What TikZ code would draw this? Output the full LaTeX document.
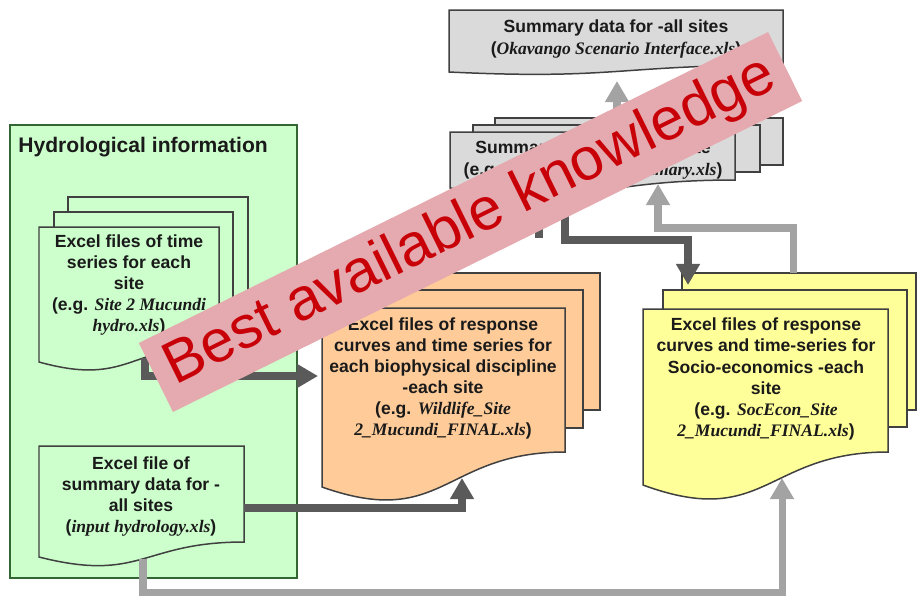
\documentclass[tikz,border=0pt]{standalone}
\usepackage{fontspec}
\setmainfont{Liberation Sans}
\newfontfamily\serifit{Liberation Serif}
\usetikzlibrary{arrows.meta}

\definecolor{hydrogreen}{HTML}{CCFFCC}
\definecolor{bioorange}{HTML}{FFCC99}
\definecolor{socyellow}{HTML}{FFFF99}
\definecolor{sumgray}{HTML}{DADADA}
\definecolor{edgegray}{HTML}{404040}
\definecolor{ink}{HTML}{1A1A1A}
\definecolor{flowdark}{HTML}{5A5A5A}
\definecolor{flowlight}{HTML}{A3A3A3}
\definecolor{stamppink}{HTML}{E5AAAF}
\definecolor{stampred}{HTML}{C80008}

% file names are set in bold italic serif
\newcommand\fname[1]{{\serifit\bfseries\itshape #1}}

% one sheet of a document shape: x1, top, x2, right end of wave, left end of wave, wave control, fill
\newcommand\docsheet[7]{%
  \path[sheet,fill=#7] (#1,#2) -- (#3,#2) -- (#3,#4)
    .. controls ({(#1+#3)/2},#4) and ({(#1+#3)/2},#6) .. (#1,#5) -- cycle;}
% a sheet lying behind a document
\newcommand\backsheet[5]{\path[sheet,fill=#5] (#1,#2) rectangle (#3,#4);}

\tikzset{
  sheet/.style={draw=edgegray, line width=0.85pt, line join=miter},
  doctext/.style={align=center, font=\bfseries\fontsize{10}{12}\selectfont,
    text=ink, inner sep=0pt},
  darkflow/.style={draw=flowdark, line width=4.6pt, line join=miter,
    -{Triangle[width=13pt,length=12pt]}},
  darkline/.style={draw=flowdark, line width=4.6pt, line join=miter},
  lightflow/.style={draw=flowlight, line width=4pt, line join=miter,
    -{Triangle[width=13pt,length=12pt]}},
  banner/.style={fill=stamppink, text=stampred, inner sep=0pt,
    minimum width=14.04cm, minimum height=1.54cm,
    font=\fontsize{34}{37}\selectfont},
}

\begin{document}
\begin{tikzpicture}[x=0.02cm,y=-0.02cm]
\useasboundingbox[fill=white] (0,0) rectangle (918,599);

% hydrological information panel
\path[draw=edgegray!80!green, line width=0.8pt, fill=hydrogreen] (10,125) rectangle (297,578);
\node[anchor=west, inner sep=0pt, text=ink, font=\bfseries\fontsize{12}{14}\selectfont]
  (hydtitle) at (18,147) {Hydrological information};

% time series per site (stack of three)
\backsheet{68}{197}{248}{315}{hydrogreen}
\backsheet{54}{212}{233}{330}{hydrogreen}
\docsheet{39}{227}{219}{345}{362}{387}{hydrogreen}
\node[doctext] (tseries) at (129,285)
  {Excel files of time\\series for each\\site\\(e.g. \fname{Site 2 Mucundi}\\\fname{hydro.xls})};

% summary hydrology for all sites
\docsheet{39}{446}{244}{542}{557}{583}{hydrogreen}
\node[doctext] (hydsum) at (141,496.5)
  {Excel file of\\summary data for -\\all sites\\(\fname{input hydrology.xls})};

% biophysical response curves (stack of three)
\backsheet{356}{273}{600}{410}{bioorange}
\backsheet{339}{290}{583}{428}{bioorange}
\docsheet{322}{308}{565}{452}{487}{530}{bioorange}
\node[doctext] (bio) at (443,378.5)
  {Excel files of response\\curves and time series for\\each biophysical discipline\\-each site\\(e.g. \fname{Wildlife\_Site}\\\fname{2\_Mucundi\_FINAL.xls})};

% socio-economic response curves (stack of three)
\backsheet{682}{273}{916}{410}{socyellow}
\backsheet{663}{290}{907}{427}{socyellow}
\docsheet{643}{309}{888}{452}{485}{530}{socyellow}
\node[doctext] (soc) at (766,379)
  {Excel files of response\\curves and time-series for\\Socio-economics -each\\site\\(e.g. \fname{SocEcon\_Site}\\\fname{2\_Mucundi\_FINAL.xls})};

% summary per site (stack of three)
\backsheet{495}{118}{783}{165}{sumgray}
\backsheet{473}{125}{760}{172}{sumgray}
\docsheet{450}{132}{735}{180}{188}{208}{sumgray}
\node[doctext] (sitesum) at (593,160)
  {Summary data for -each site\\(e.g. \fname{Site 2 Mucundi Summary.xls})};

% summary for all sites
\docsheet{449}{10}{783}{65}{72}{80}{sumgray}
\node[doctext] (allsum) at (616,39)
  {Summary data for -all sites\\(\fname{Okavango Scenario Interface.xls})};

% connector end points on the sheet edges
\coordinate (tsOut)    at (145,358);
\coordinate (bioInL)   at (318,376);
\coordinate (hydOutR)  at (244,508);
\coordinate (bioInB)   at (462,478);
\coordinate (hydOutB)  at (143,559);
\coordinate (socInB)   at (782,478);
\coordinate (siteOutT) at (617,132);
\coordinate (allIn)    at (617,81);
\coordinate (socOutT)  at (793,273);
\coordinate (siteIn)   at (658,184);
\coordinate (siteOutB) at (565,190);
\coordinate (socInT)   at (688,285);
\coordinate (siteStub) at (539,190);

% flows
\draw[darkflow]  (tsOut) |- (bioInL);
\draw[darkflow]  (hydOutR) -| (bioInB);
\draw[lightflow] (hydOutB) -- ++(0,33) -| (socInB);
\draw[lightflow] (siteOutT) -- (allIn);
\draw[lightflow] (socOutT) -- ++(0,-45) -| (siteIn);
\draw[darkflow]  (siteOutB) -- ++(0,50) -| (socInT);
\draw[darkline]  (siteStub) -- ++(0,48);

% stamp across the chart
\node[banner, rotate=26.3] (stamp) at (470.5,222) {Best available knowledge};
\end{tikzpicture}
\end{document}
